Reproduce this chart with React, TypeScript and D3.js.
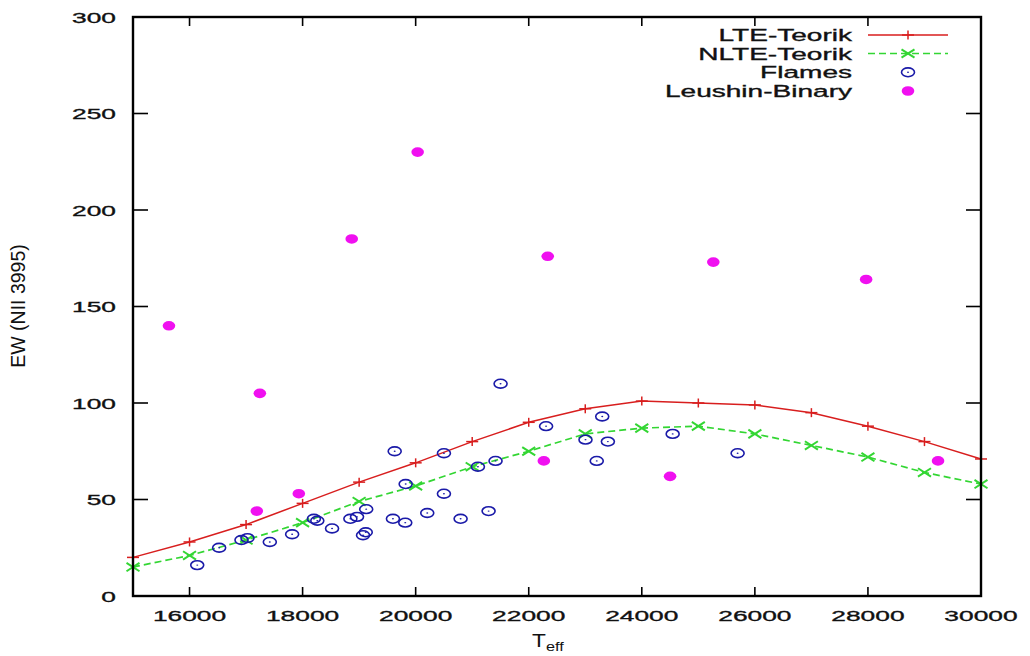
import React from "react";
import * as d3 from "d3";

// Model grid (effective temperature) and theoretical equivalent widths
const modelTeff = [15000, 16000, 17000, 18000, 19000, 20000, 21000, 22000, 23000, 24000, 25000, 26000, 27000, 28000, 29000, 30000];
const lteEW = [20, 28, 37, 48, 59, 69, 80, 90, 97, 101, 100, 99, 95, 88, 80, 71];
const nlteEW = [15, 21, 29, 38, 49, 57, 67, 75, 84, 87, 88, 84, 78, 72, 64, 58];

// Flames observations
const flamesTeff = [16136, 16524, 16919, 17025, 17420, 17815, 18200, 18260, 18521, 18845, 18963, 19125, 19069, 19117, 19598, 19629, 19816, 19823, 20205, 20500, 20500, 20795, 21101, 21290, 21413, 21502, 22307, 23004, 23203, 23300, 23400, 24546, 25695];
const flamesEW = [16, 25, 29, 30, 28, 32, 40, 39, 35, 40, 41, 45, 31.5, 33, 40, 75, 38, 58, 43, 74, 53, 40, 67, 44, 70, 110, 88, 81, 70, 93, 80, 84, 74];

// Leushin binaries
const binaryTeff = [15636, 17190, 17244, 17933, 18869, 20035, 22267, 22336, 24500, 25265, 27968, 29240];
const binaryEW = [140, 44, 105, 53, 185, 230, 70, 176, 62, 173, 164, 70];

const xTicks = [16000, 18000, 20000, 22000, 24000, 26000, 28000, 30000];
const yTicks = [0, 50, 100, 150, 200, 250, 300];

const legendLabels = ["LTE-Teorik", "NLTE-Teorik", "Flames", "Leushin-Binary"];

const W = 1030;
const H = 656;
const RED = "#d81e1e";
const GREEN = "#33d633";
const BLUE = "#1a1aa8";
const MAGENTA = "#f010f0";
const FONT = "'Liberation Sans', Arial, Helvetica, sans-serif";
const SX = 1.7;

function SText({ x, y, anchor, size, sx, children }: any) {
  return (
    <text
      transform={`translate(${x},${y}) scale(${sx},1)`}
      textAnchor={anchor}
      fontSize={size}
      fontFamily={FONT}
      fill="#111"
      stroke="#111"
      strokeWidth={0.35}
    >
      {children}
    </text>
  );
}

function Plus({ x, y }: any) {
  return (
    <g stroke={RED} strokeWidth={1.5}>
      <line x1={x - 6} x2={x + 6} y1={y} y2={y} />
      <line x1={x} x2={x} y1={y - 4.5} y2={y + 4.5} />
    </g>
  );
}

function Cross({ x, y }: any) {
  return (
    <g stroke={GREEN} strokeWidth={2}>
      <line x1={x - 6.5} x2={x + 6.5} y1={y - 4.2} y2={y + 4.2} />
      <line x1={x - 6.5} x2={x + 6.5} y1={y + 4.2} y2={y - 4.2} />
    </g>
  );
}

function Ring({ x, y }: any) {
  return (
    <g>
      <ellipse cx={x} cy={y} rx={6.5} ry={4.4} fill="none" stroke={BLUE} strokeWidth={1.6} />
      <ellipse cx={x} cy={y} rx={1} ry={0.7} fill={BLUE} />
    </g>
  );
}

function Dot({ x, y }: any) {
  return <ellipse cx={x} cy={y} rx={6.3} ry={4.8} fill={MAGENTA} />;
}

export default function App() {
  const left = 133, right = 981, top = 17, bottom = 596;
  const x = d3.scaleLinear().domain([15000, 30000]).range([left, right]);
  const y = d3.scaleLinear().domain([0, 300]).range([bottom, top]);

  const lteData = modelTeff.map((t, i) => [t, lteEW[i]] as [number, number]);
  const nlteData = modelTeff.map((t, i) => [t, nlteEW[i]] as [number, number]);
  const line = d3.line<[number, number]>().x((d) => x(d[0])).y((d) => y(d[1]));

  const legY = [35, 53.5, 72.3, 91];
  const legTextX = 852;
  const legX1 = 868, legX2 = 948, legXm = 908;

  return (
    <svg width={W} height={H} style={{ position: "absolute", left: 0, top: 0, background: "#fff" }}>
      <rect x={0} y={0} width={W} height={H} fill="#fff" />

      {/* ticks */}
      <g stroke="#000" strokeWidth={1.6}>
        {xTicks.map((t) => (
          <g key={"xt" + t}>
            <line x1={x(t)} x2={x(t)} y1={bottom} y2={bottom - 9} />
            <line x1={x(t)} x2={x(t)} y1={top} y2={top + 9} />
          </g>
        ))}
        {yTicks.map((t) => (
          <g key={"yt" + t}>
            <line x1={left} x2={left + 15} y1={y(t)} y2={y(t)} />
            <line x1={right} x2={right - 15} y1={y(t)} y2={y(t)} />
          </g>
        ))}
      </g>

      {/* curves */}
      <path d={line(lteData) || ""} fill="none" stroke={RED} strokeWidth={1.5} />
      <path d={line(nlteData) || ""} fill="none" stroke={GREEN} strokeWidth={1.7} strokeDasharray="7,4" />
      {lteData.map((d, i) => <Plus key={"p" + i} x={x(d[0])} y={y(d[1])} />)}
      {nlteData.map((d, i) => <Cross key={"c" + i} x={x(d[0])} y={y(d[1])} />)}

      {/* observations */}
      {flamesTeff.map((t, i) => <Ring key={"f" + i} x={x(t)} y={y(flamesEW[i])} />)}
      {binaryTeff.map((t, i) => <Dot key={"b" + i} x={x(t)} y={y(binaryEW[i])} />)}

      {/* border */}
      <rect x={left} y={top} width={right - left} height={bottom - top} fill="none" stroke="#000" strokeWidth={2.4} />

      {/* tick labels */}
      {xTicks.map((t) => (
        <SText key={"xl" + t} x={x(t)} y={621} anchor="middle" size={15.5} sx={SX}>
          {String(t)}
        </SText>
      ))}
      {yTicks.map((t) => (
        <SText key={"yl" + t} x={116} y={y(t) + 5.5} anchor="end" size={15.5} sx={SX}>
          {String(t)}
        </SText>
      ))}

      {/* axis labels */}
      <text transform="translate(25,306) rotate(-90)" textAnchor="middle" fontSize={19.5} fontFamily={FONT} fill="#111">
        EW (NII 3995)
      </text>
      <g transform="translate(532,647) scale(1.3,1)">
        <text fontSize={17.5} fontFamily={FONT} fill="#111">
          T<tspan fontSize={12.5} dy={4}>eff</tspan>
        </text>
      </g>

      {/* legend */}
      {legendLabels.map((lab, i) => (
        <SText key={"lg" + i} x={legTextX} y={legY[i] + 6} anchor="end" size={16.5} sx={SX}>
          {lab}
        </SText>
      ))}
      <line x1={legX1} x2={legX2} y1={legY[0]} y2={legY[0]} stroke={RED} strokeWidth={1.5} />
      <Plus x={legXm} y={legY[0]} />
      <line x1={legX1} x2={legX2} y1={legY[1]} y2={legY[1]} stroke={GREEN} strokeWidth={1.7} strokeDasharray="7,4" />
      <Cross x={legXm} y={legY[1]} />
      <Ring x={legXm} y={legY[2]} />
      <Dot x={legXm} y={legY[3]} />
    </svg>
  );
}
